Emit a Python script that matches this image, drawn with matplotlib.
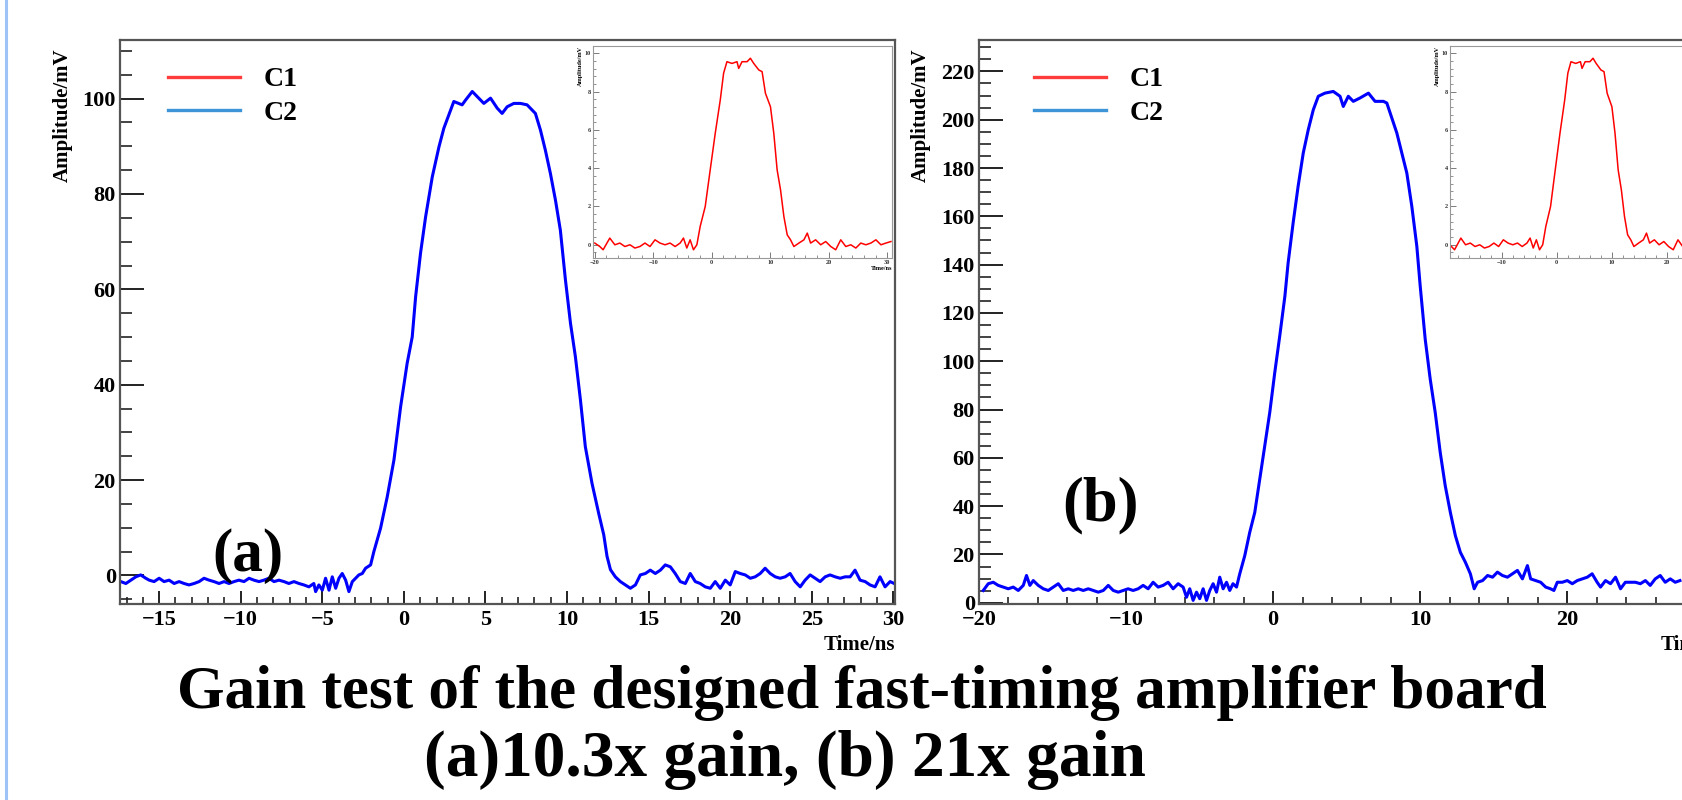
import matplotlib
matplotlib.use('Agg')
import matplotlib.pyplot as plt
from matplotlib.lines import Line2D
from matplotlib.ticker import MultipleLocator

plt.rcParams['font.family'] = ['Liberation Serif', 'DejaVu Serif']
plt.rcParams['font.weight'] = 'bold'
plt.rcParams['axes.labelweight'] = 'bold'

# ------------------ data ------------------
# (a) 10.3x gain, output channel C2
a_time = [-17.35, -17.04, -16.74, -16.43, -16.13, -15.82, -15.61, -15.31, -15.00, -14.70,
          -14.39, -14.08, -13.78, -13.47, -13.17, -12.86, -12.55, -12.25, -11.94, -11.64,
          -11.33, -11.02, -10.72, -10.41, -10.11, -9.80, -9.49, -9.19, -8.88, -8.58,
          -8.27, -7.96, -7.66, -7.35, -7.05, -6.74, -6.43, -6.13, -5.82, -5.52,
          -5.41, -5.21, -5.00, -4.80, -4.59, -4.39, -4.18, -3.98, -3.78, -3.57,
          -3.37, -3.16, -2.96, -2.76, -2.55, -2.35, -2.04, -1.84, -1.43, -1.02,
          -0.61, -0.20, 0.20, 0.51, 0.72, 1.02, 1.33, 1.74, 2.15, 2.45,
          2.86, 3.06, 3.57, 3.78, 4.19, 4.59, 4.90, 5.31, 5.72, 6.02,
          6.33, 6.74, 7.14, 7.55, 8.06, 8.37, 8.67, 8.98, 9.29, 9.59,
          9.90, 10.21, 10.51, 10.82, 11.12, 11.53, 11.94, 12.25, 12.45, 12.66,
          12.96, 13.27, 13.57, 13.88, 14.19, 14.49, 14.80, 15.10, 15.41, 15.72,
          16.02, 16.33, 16.63, 16.94, 17.25, 17.55, 17.86, 18.16, 18.47, 18.78,
          19.08, 19.39, 19.70, 20.00, 20.31, 20.61, 20.92, 21.23, 21.53, 21.84,
          22.14, 22.45, 22.76, 23.06, 23.37, 23.67, 23.98, 24.29, 24.59, 24.90,
          25.20, 25.51, 25.82, 26.12, 26.43, 26.74, 27.04, 27.35, 27.65, 27.96,
          28.27, 28.57, 28.88, 29.18, 29.49, 29.80, 30.05]
a_amp = [-1.3, -1.7, -1.0, -0.3, 0.1, -0.6, -1.0, -1.3, -0.6, -1.3,
         -1.0, -1.7, -1.3, -1.7, -2.0, -1.7, -1.3, -0.6, -1.0, -1.3,
         -1.7, -1.3, -1.7, -1.3, -1.0, -1.3, -0.6, -1.0, -1.3, -1.0,
         -0.6, -1.3, -1.0, -1.3, -1.7, -1.3, -1.7, -2.0, -2.4, -1.7,
         -3.4, -2.0, -3.1, -0.6, -3.1, -0.3, -2.7, -0.6, 0.4, -1.0,
         -3.4, -1.3, -0.6, 0.1, 0.4, 1.5, 2.2, 5.0, 9.9, 16.5,
         24.2, 35.4, 44.5, 50.0, 58.5, 67.6, 75.2, 83.6, 89.9, 93.8,
         97.6, 99.4, 98.7, 99.7, 101.5, 100.1, 99.0, 100.1, 98.0, 96.9,
         98.3, 99.0, 99.0, 98.7, 96.9, 93.4, 89.2, 84.3, 78.7, 72.4,
         62.0, 52.9, 45.9, 36.8, 27.0, 19.3, 13.0, 8.5, 4.0, 1.2,
         -0.3, -1.3, -2.0, -2.7, -2.0, 0.1, 0.4, 1.1, 0.4, 1.1,
         2.2, 1.8, 0.4, -1.3, -1.7, 0.4, -1.3, -1.7, -2.4, -2.7,
         -1.3, -2.7, -1.0, -2.0, 0.8, 0.4, 0.1, -0.6, -0.3, 0.4,
         1.5, 0.4, -0.3, -0.6, -0.3, 0.4, -1.3, -2.4, -1.0, 0.1,
         -0.6, -1.3, -0.3, 0.1, -0.3, -0.6, -0.3, -0.3, 1.1, -1.0,
         -1.3, -2.0, -2.4, -0.3, -2.4, -1.3, -1.7]

# (b) 21x gain, output channel C2
b_time = [-19.71, -19.37, -19.03, -18.69, -18.35, -18.01, -17.67, -17.33, -16.99, -16.77,
          -16.54, -16.31, -15.97, -15.63, -15.29, -14.95, -14.61, -14.27, -13.93, -13.59,
          -13.25, -12.91, -12.57, -12.23, -11.89, -11.55, -11.21, -10.87, -10.53, -10.19,
          -9.86, -9.52, -9.18, -8.84, -8.50, -8.16, -7.82, -7.48, -7.14, -6.80,
          -6.46, -6.12, -5.89, -5.67, -5.44, -5.21, -4.99, -4.76, -4.53, -4.31,
          -4.08, -3.85, -3.63, -3.40, -3.17, -2.95, -2.73, -2.49, -2.27, -1.93,
          -1.59, -1.25, -0.91, -0.57, -0.23, 0.11, 0.45, 0.80, 1.02, 1.36,
          1.70, 2.05, 2.39, 2.73, 3.07, 3.52, 4.09, 4.55, 4.77, 5.11,
          5.45, 5.91, 6.48, 6.93, 7.50, 7.73, 8.07, 8.41, 8.64, 9.09,
          9.43, 9.77, 10.00, 10.34, 10.68, 11.02, 11.36, 11.70, 12.05, 12.39,
          12.73, 13.07, 13.41, 13.67, 13.90, 14.24, 14.58, 14.92, 15.25, 15.59,
          15.93, 16.27, 16.61, 16.95, 17.29, 17.51, 17.85, 18.19, 18.53, 18.86,
          19.09, 19.32, 19.66, 20.00, 20.34, 20.68, 21.02, 21.36, 21.69, 22.03,
          22.26, 22.60, 22.94, 23.28, 23.62, 23.95, 24.29, 24.63, 24.97, 25.31,
          25.64, 25.98, 26.32, 26.66, 27.00, 27.34, 27.66]
b_amp = [5.1, 7.9, 8.5, 7.2, 6.5, 5.8, 6.5, 5.1, 7.2, 11.3,
         7.2, 9.2, 7.2, 5.8, 5.1, 6.5, 7.9, 5.1, 5.8, 5.1,
         5.8, 5.1, 5.8, 5.1, 4.4, 5.1, 7.2, 5.1, 4.4, 5.1,
         5.8, 5.1, 5.8, 7.2, 5.8, 8.5, 6.5, 7.2, 8.5, 5.8,
         7.9, 6.5, 2.3, 5.8, 1.0, 4.4, 1.7, 5.8, 1.0, 5.1,
         7.9, 4.4, 10.6, 5.8, 8.5, 5.1, 7.9, 6.5, 12.0, 19.5,
         29.2, 37.4, 51.2, 65.0, 78.8, 95.3, 110.5, 127.0, 140.8, 157.3,
         172.5, 186.3, 195.9, 204.1, 209.7, 211.0, 211.7, 209.7, 205.5, 209.7,
         207.6, 209.0, 211.0, 207.6, 207.6, 206.9, 200.7, 194.5, 188.9, 177.9,
         164.1, 147.6, 131.1, 109.1, 92.6, 78.8, 62.3, 48.5, 37.4, 27.8,
         20.9, 16.8, 12.0, 5.8, 8.5, 9.2, 11.3, 10.6, 12.7, 11.3,
         10.6, 12.0, 13.4, 9.9, 15.4, 9.9, 9.2, 8.5, 6.5, 5.8,
         5.1, 8.5, 8.5, 9.2, 7.9, 9.2, 9.9, 10.6, 12.0, 8.5,
         6.5, 9.2, 7.9, 10.6, 5.8, 8.5, 8.5, 8.5, 7.9, 9.2,
         7.2, 9.9, 11.3, 8.5, 9.9, 8.5, 9.2]

# inset: input channel C1
c1_time = [-20.00, -19.14, -18.57, -17.43, -16.57, -15.71, -14.85, -13.99, -13.14, -12.28,
           -11.42, -10.56, -9.70, -8.85, -7.99, -7.13, -6.27, -5.41, -4.84, -4.27,
           -3.70, -3.13, -2.55, -1.98, -1.12, -0.27, 0.59, 1.45, 2.02, 2.59,
           3.45, 4.31, 4.60, 5.17, 6.03, 6.60, 7.17, 8.03, 8.60, 9.17,
           10.03, 10.60, 11.17, 11.75, 12.32, 12.89, 13.46, 14.03, 14.89, 15.75,
           16.32, 16.89, 17.75, 18.61, 19.47, 20.33, 21.18, 22.04, 22.90, 23.76,
           24.62, 25.47, 26.33, 27.19, 28.05, 28.91, 29.76, 30.62]
c1_amp = [0.09, -0.09, -0.26, 0.35, 0.00, 0.09, -0.09, 0.00, -0.17, -0.09,
          0.09, -0.09, 0.26, 0.09, 0.00, 0.09, -0.09, 0.09, 0.35, -0.17,
          0.26, -0.26, 0.00, 0.96, 2.00, 3.91, 5.82, 7.56, 8.96, 9.56,
          9.47, 9.56, 9.21, 9.56, 9.56, 9.74, 9.47, 9.13, 9.04, 7.91,
          7.21, 5.82, 3.91, 2.87, 1.48, 0.52, 0.26, -0.09, 0.09, 0.26,
          0.61, 0.09, 0.26, 0.00, 0.17, -0.09, -0.26, 0.26, -0.09, 0.00,
          -0.17, 0.09, 0.00, 0.09, 0.26, 0.00, 0.09, 0.17]

legend_labels = ['C1', 'C2']
caption_1 = 'Gain test of the designed fast-timing amplifier board'
caption_2 = '(a)10.3x gain, (b) 21x gain'

W, H = 1683, 800


def px_rect(left, top, right, bottom):
    return [left / W, 1 - bottom / H, (right - left) / W, (bottom - top) / H]


def style_main(ax, xmaj, xmin, ymaj, ymin):
    for s in ax.spines.values():
        s.set_color('#555555')
        s.set_linewidth(1.6)
    ax.xaxis.set_major_locator(MultipleLocator(xmaj))
    ax.xaxis.set_minor_locator(MultipleLocator(xmin))
    ax.yaxis.set_major_locator(MultipleLocator(ymaj))
    ax.yaxis.set_minor_locator(MultipleLocator(ymin))
    ax.tick_params(axis='y', which='major', direction='in', length=17, width=1.4,
                   labelsize=16, pad=3, colors='#222222', labelcolor='black')
    ax.tick_params(axis='y', which='minor', direction='in', length=8.5, width=1.2, colors='#222222')
    ax.tick_params(axis='x', which='major', direction='in', length=9.5, width=1.4,
                   labelsize=16, pad=4, colors='#222222', labelcolor='black')
    ax.tick_params(axis='x', which='minor', direction='in', length=5, width=1.2, colors='#222222')
    ax.set_xlabel('Time/ns', fontsize=15, loc='right')
    ax.xaxis.set_label_coords(1.0, -0.055)
    ax.set_ylabel('Amplitude/mV', fontsize=15, loc='top')


def add_legend(ax, left_px):
    handles = [Line2D([], [], color='#ff3c3c', lw=2.4), Line2D([], [], color='#3d94d6', lw=2.4)]
    ax.legend(handles, legend_labels, loc='upper left', bbox_to_anchor=(left_px / W, 1 - 67 / H),
              bbox_transform=fig.transFigure, frameon=False, fontsize=20, handlelength=2.6,
              handletextpad=0.86, labelspacing=0.3, borderpad=0, borderaxespad=0)


def add_inset(rect, xlim):
    ins = fig.add_axes(rect)
    ins.plot(c1_time, c1_amp, color='#ff0000', lw=1.1)
    ins.set_xlim(*xlim)
    ins.set_ylim(-0.69, 10.38)
    for s in ins.spines.values():
        s.set_color('#999999')
        s.set_linewidth(0.8)
    ins.xaxis.set_major_locator(MultipleLocator(10))
    ins.xaxis.set_minor_locator(MultipleLocator(2))
    ins.yaxis.set_major_locator(MultipleLocator(2))
    ins.yaxis.set_minor_locator(MultipleLocator(0.4))
    ins.tick_params(which='major', direction='in', length=4, width=0.6, labelsize=4.5,
                    pad=1.5, colors='#666666', labelcolor='#333333')
    ins.tick_params(which='minor', direction='in', length=2, width=0.5, colors='#666666')
    ins.set_xlabel('Time/ns', fontsize=4.5, loc='right', labelpad=0.5)
    ins.set_ylabel('Amplitude/mV', fontsize=4.5, loc='top', labelpad=1)
    return ins


fig = plt.figure(figsize=(W / 100, H / 100), dpi=100)

# ------------------ (a) ------------------
ax_a = fig.add_axes(px_rect(120, 40, 895, 604))
ax_a.plot(a_time, a_amp, color='#0000ff', lw=2.2)
ax_a.set_xlim(-17.4, 30.1)
ax_a.set_ylim(-6.0, 112.3)
style_main(ax_a, 5, 1, 20, 5)
ax_a.yaxis.set_label_coords(-0.061, 0.985)
add_legend(ax_a, 168)
ax_a.text(0.165, 0.085, '(a)', transform=ax_a.transAxes, fontsize=44, ha='center', va='center')
add_inset(px_rect(593, 46, 892, 258), (-20.3, 30.8))

# ------------------ (b) ------------------
ax_b = fig.add_axes(px_rect(979, 40, 1732, 604))
ax_b.plot(b_time, b_amp, color='#0000ff', lw=2.2)
ax_b.set_xlim(-20, 31.2)
ax_b.set_ylim(-0.5, 233)
style_main(ax_b, 10, 2, 20, 5)
ax_b.yaxis.set_label_coords(-0.064, 0.985)
add_legend(ax_b, 1034)
ax_b.text(0.161, 0.174, '(b)', transform=ax_b.transAxes, fontsize=45, ha='center', va='center')
add_inset(px_rect(1450, 46, 1730, 258), (-19.4, 31.5))

# ------------------ caption ------------------
fig.text(862 / W, 1 - 708 / H, caption_1, ha='center', va='baseline', fontsize=44)
fig.text(785 / W, 1 - 776 / H, caption_2, ha='center', va='baseline', fontsize=47)

# slide border on the left
fig.add_artist(Line2D([6 / W, 6 / W], [0, 1], transform=fig.transFigure, color='#9dc3f7', lw=2.2))

fig.savefig('out.png', dpi=100)
